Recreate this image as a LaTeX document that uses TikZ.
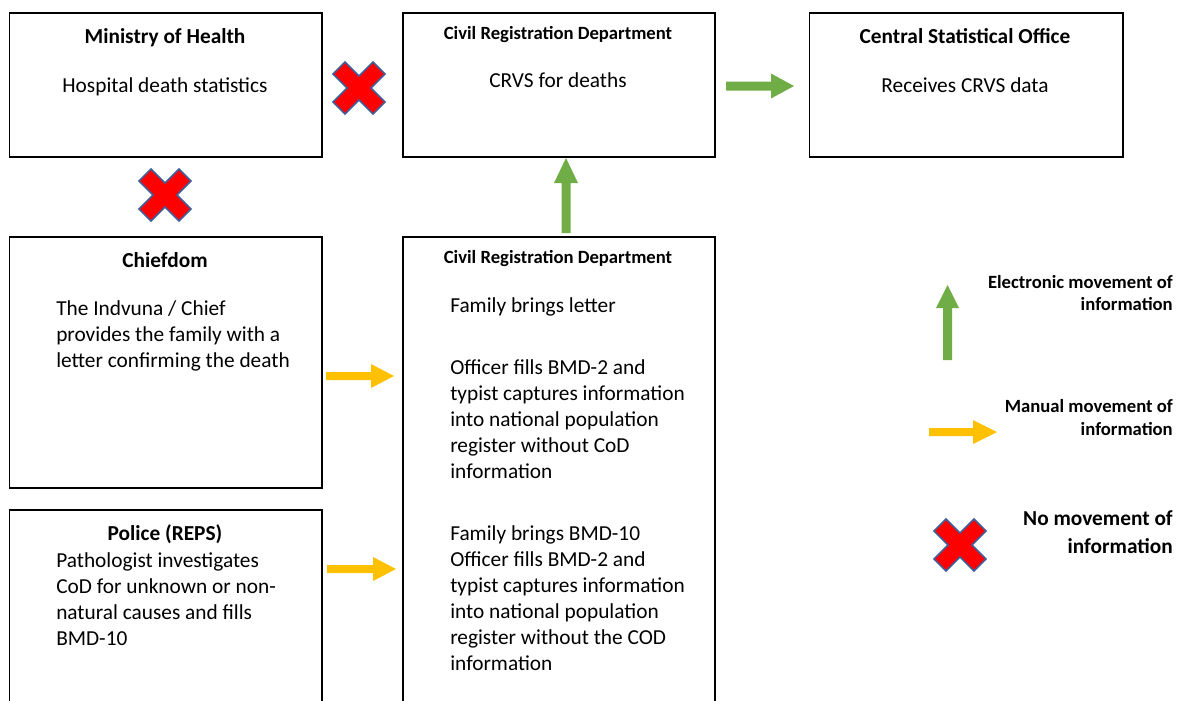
\documentclass[tikz,border=0pt]{standalone}
\usepackage{fontspec}
\setmainfont{Carlito}
\definecolor{arrgreen}{HTML}{70AD47}
\definecolor{arryellow}{HTML}{FFC000}
\definecolor{xred}{HTML}{FF0000}
\definecolor{xblue}{HTML}{3F5F9C}
% right-pointing block arrow: colour, x0, x1, y, shaft half, head half, head length
\newcommand\myRightArrow[7]{%
  \fill[#1] (#2,#4-#5) -- (#3-#7,#4-#5) -- (#3-#7,#4-#6) -- (#3,#4)
    -- (#3-#7,#4+#6) -- (#3-#7,#4+#5) -- (#2,#4+#5) -- cycle;}
% up-pointing block arrow: colour, x, ybottom, ytip, shaft half, head half, head length
\newcommand\myUpArrow[7]{%
  \fill[#1] (#2-#5,#3) -- (#2-#5,#4+#7) -- (#2-#6,#4+#7) -- (#2,#4)
    -- (#2+#6,#4+#7) -- (#2+#5,#4+#7) -- (#2+#5,#3) -- cycle;}
\begin{document}
\begin{tikzpicture}[x=0.75pt,y=-0.75pt,
  box/.style={draw=black,line width=1.4pt,anchor=north west,inner sep=0pt},
  body/.style={font=\fontsize{16}{19.5}\selectfont,inner sep=0pt},
  head/.style={font=\fontsize{16}{19.5}\selectfont\bfseries,inner sep=0pt,anchor=base},
  smallhead/.style={font=\fontsize{14}{17}\selectfont\bfseries,inner sep=0pt,anchor=base},
  line/.style={body,anchor=base west},
  legsmall/.style={font=\fontsize{14}{17}\selectfont\bfseries,inner sep=0pt,anchor=base east},
  legbig/.style={font=\fontsize{16}{19.5}\selectfont\bfseries,inner sep=0pt,anchor=base east},
  pics/nocross/.style={code={
    \filldraw[fill=xred,draw=xblue,line width=1.1pt]
      (-14,-26) -- (0,-12) -- (14,-26) -- (26,-14) -- (12,0) -- (26,14)
      -- (14,26) -- (0,12) -- (-14,26) -- (-26,14) -- (-12,0) -- (-26,-14) -- cycle;}}]
\useasboundingbox (0,0) rectangle (1178,700);

% boxes
\node[box,minimum width=312.5*0.75pt,minimum height=144*0.75pt] (moh) at (8.5,12) {};
\node[box,minimum width=312*0.75pt,minimum height=144*0.75pt] (crdt) at (402,12) {};
\node[box,minimum width=313.5*0.75pt,minimum height=144*0.75pt] (cso) at (808.5,12) {};
\node[box,minimum width=312.5*0.75pt,minimum height=251*0.75pt] (chief) at (8.5,236) {};
\node[box,minimum width=312.5*0.75pt,minimum height=205*0.75pt] (police) at (8.5,509) {};
\node[box,minimum width=312*0.75pt,minimum height=478*0.75pt] (crdb) at (402,236) {};

% top row texts
\node[head] (mohT) at (165,43) {Ministry of Health};
\node[body,anchor=base] (mohB) at (165,92) {Hospital death statistics};
\node[smallhead] (crdtT) at (558,39) {Civil Registration Department};
\node[body,anchor=base] (crdtB) at (558,87) {CRVS for deaths};
\node[head] (csoT) at (965,43) {Central Statistical Office};
\node[body,anchor=base] (csoB) at (965,92) {Receives CRVS data};

% chiefdom
\node[head] (chiefT) at (165,267) {Chiefdom};
\node[line] (ch1) at (56,315) {The Indvuna / Chief};
\node[line] (ch2) at (56,341) {provides the family with a};
\node[line] (ch3) at (56,367) {letter confirming the death};

% police
\node[head] (polT) at (165,540) {Police (REPS)};
\node[line] (po1) at (56,567) {Pathologist investigates};
\node[line] (po2) at (56,593) {CoD for unknown or non-};
\node[line] (po3) at (56,619) {natural causes and fills};
\node[line] (po4) at (56,645) {BMD-10};

% civil registration (bottom)
\node[smallhead] (crdbT) at (558,263) {Civil Registration Department};
\node[line] (cr1) at (450,312) {Family brings letter};
\node[line] (cr2) at (450,374) {Officer fills BMD-2 and};
\node[line] (cr3) at (450,400) {typist captures information};
\node[line] (cr4) at (450,426) {into national population};
\node[line] (cr5) at (450,452) {register without CoD};
\node[line] (cr6) at (450,478) {information};
\node[line] (cr7) at (450,540) {Family brings BMD-10};
\node[line] (cr8) at (450,566) {Officer fills BMD-2 and};
\node[line] (cr9) at (450,592) {typist captures information};
\node[line] (cr10) at (450,618) {into national population};
\node[line] (cr11) at (450,644) {register without the COD};
\node[line] (cr12) at (450,670) {information};

% legend texts
\node[legsmall] (lg1) at (1173,288) {Electronic movement of};
\node[legsmall] (lg2) at (1173,310) {information};
\node[legsmall] (lg3) at (1173,412) {Manual movement of};
\node[legsmall] (lg4) at (1173,435) {information};
\node[legbig] (lg5) at (1173,525) {No movement of};
\node[legbig] (lg6) at (1173,553) {information};

% arrows
\myRightArrow{arrgreen}{726}{794}{86}{4.5}{12.5}{23}
\myUpArrow{arrgreen}{566}{233}{158}{4.5}{12}{25}
\myUpArrow{arrgreen}{947.5}{360}{285}{4.5}{11.5}{23}
\myRightArrow{arryellow}{326}{394}{376}{4}{12}{23}
\myRightArrow{arryellow}{327}{396}{569}{4}{12}{23}
\myRightArrow{arryellow}{929}{997}{432}{4}{12}{24}

% crosses
\pic at (359,88) {nocross};
\pic at (165,195) {nocross};
\pic at (960,545) {nocross};
\end{tikzpicture}
\end{document}
